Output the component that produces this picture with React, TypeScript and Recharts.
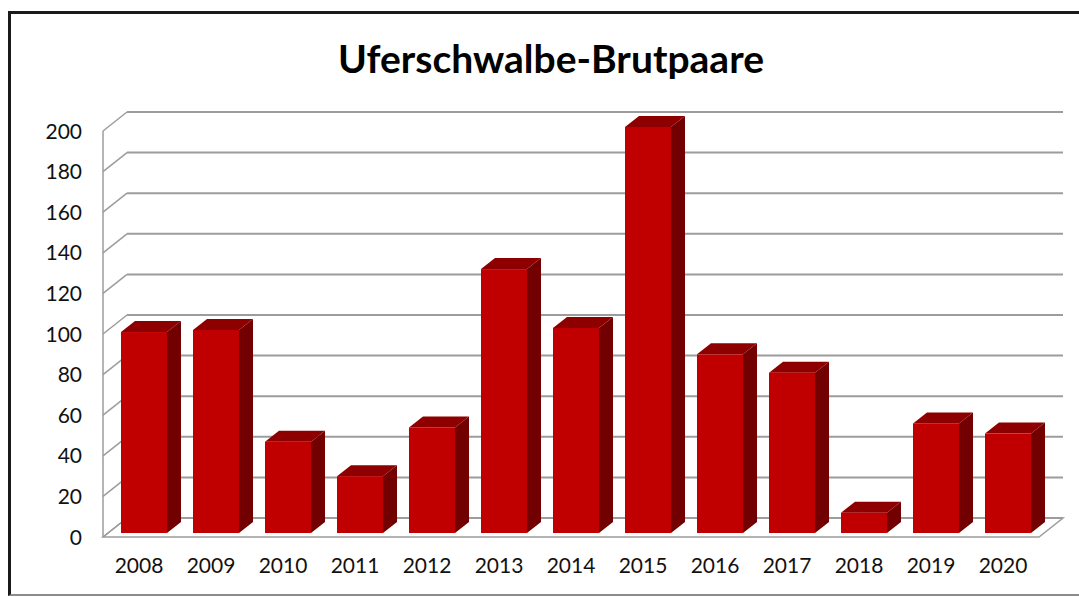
import { BarChart, Bar, XAxis, YAxis, CartesianGrid } from 'recharts';

const YEARS = ['2008', '2009', '2010', '2011', '2012', '2013', '2014', '2015', '2016', '2017', '2018', '2019', '2020'];
const PAIRS = [99, 100, 45, 28, 52, 130, 101, 200, 88, 79, 10, 54, 49];
const Y_TICKS = [0, 20, 40, 60, 80, 100, 120, 140, 160, 180, 200];

const W = 1079;
const H = 597;
const MARGIN = { top: 127, right: 35, bottom: 24, left: 8 };
const X_AXIS_H = 40;
const PLOT_BOTTOM = H - MARGIN.bottom - X_AXIS_H;

// the bars stand a little behind the front plane, the back wall further back
const FRONT = { dx: -5, dy: 4 };
const BACK = { dx: 19, dy: -15 };
const DEPTH = { dx: 14, dy: -11 };

const GRID = '#9c9c9c';
const FONT = 'Lato, "Open Sans", sans-serif';

const data = YEARS.map((year, i) => ({ year, pairs: PAIRS[i] }));

function gridLine(p: any) {
  const { x1, x2, y1 } = p;
  const fx = x1 + FRONT.dx, fy = y1 + FRONT.dy;
  const bx = x1 + BACK.dx, by = y1 + BACK.dy;
  const floor = Math.abs(y1 - PLOT_BOTTOM) < 0.5;
  return (
    <g>
      {floor && (
        <>
          <polygon
            points={`${fx},${fy} ${bx},${by} ${x2 + BACK.dx},${by} ${x2 + FRONT.dx},${fy}`}
            fill="#fff"
            stroke={GRID}
            strokeWidth={1.5}
          />
          <line x1={fx} y1={MARGIN.top + FRONT.dy} x2={fx} y2={fy} stroke={GRID} strokeWidth={1.5} />
        </>
      )}
      <line x1={fx} y1={fy} x2={bx} y2={by} stroke={GRID} strokeWidth={1.5} />
      <line x1={bx} y1={by} x2={x2 + BACK.dx} y2={by} stroke={GRID} strokeWidth={2} />
    </g>
  );
}

function Bar3D(p: any) {
  const { x, y, width, height } = p;
  if (!height) return null;
  const r = x + width;
  const b = y + height;
  return (
    <g>
      <polygon points={`${r},${y} ${r + DEPTH.dx},${y + DEPTH.dy} ${r + DEPTH.dx},${b + DEPTH.dy} ${r},${b}`} fill="#720000" />
      <polygon points={`${x},${y} ${x + DEPTH.dx},${y + DEPTH.dy} ${r + DEPTH.dx},${y + DEPTH.dy} ${r},${y}`} fill="#8e0000" />
      <rect x={x} y={y} width={width} height={height} fill="#c00000" />
    </g>
  );
}

function YearTick(p: any) {
  return (
    <text x={p.x + FRONT.dx} y={p.y + 40} textAnchor="middle" fontFamily={FONT} fontSize={21} fill="#111">
      {p.payload.value}
    </text>
  );
}

function ValueTick(p: any) {
  return (
    <text x={p.x} y={p.y + FRONT.dy} dy="0.36em" textAnchor="end" fontFamily={FONT} fontSize={21} fill="#111">
      {p.payload.value}
    </text>
  );
}

export default function App() {
  return (
    <div style={{ position: 'fixed', left: 0, top: 0, width: W, height: H, overflow: 'hidden', background: '#fff' }}>
      <div
        style={{
          position: 'absolute',
          left: 8,
          top: 11,
          width: 1100,
          height: 580,
          borderLeft: '3px solid #1a1a1a',
          borderTop: '3px solid #1a1a1a',
          borderBottom: '2px solid #8c8c8c',
        }}
      />
      <div
        style={{
          position: 'absolute',
          left: 0,
          top: 35,
          width: 1102,
          textAlign: 'center',
          fontFamily: FONT,
          fontWeight: 700,
          fontSize: 39,
          color: '#000',
        }}
      >
        Uferschwalbe-Brutpaare
      </div>
      <div style={{ position: 'absolute', left: 0, top: 0 }}>
        <BarChart width={W} height={H} data={data} margin={MARGIN} barCategoryGap={13}>
          <CartesianGrid vertical={false} horizontal={gridLine} />
          <XAxis dataKey="year" height={X_AXIS_H} axisLine={false} tickLine={false} tickSize={0} tickMargin={0} tick={YearTick} interval={0} />
          <YAxis width={100} domain={[0, 200]} ticks={Y_TICKS} axisLine={false} tickLine={false} tickSize={0} tickMargin={26} tick={ValueTick} />
          <Bar dataKey="pairs" shape={Bar3D} isAnimationActive={false} />
        </BarChart>
      </div>
    </div>
  );
}
